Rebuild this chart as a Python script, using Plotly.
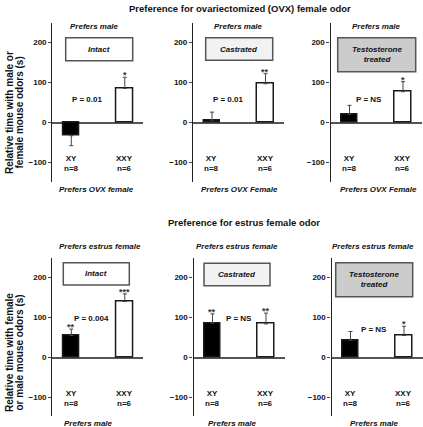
import plotly.graph_objects as go

W, H = 423, 427
FONT = "Liberation Sans, Arial, sans-serif"

categories = ["XY", "XXY"]
n_labels = ["n=8", "n=6"]
yticks = [-100, 0, 100, 200]

# OVX female odor row
ovx_intact = [-33, 85]
ovx_intact_err = [25, 28]
ovx_castrated = [6, 97]
ovx_castrated_err = [20, 25]
ovx_testo = [21, 77]
ovx_testo_err = [22, 25]
ovx_sig = [["", "*"], ["", "**"], ["", "*"]]
ovx_p = ["P = 0.01", "P = 0.01", "P = NS"]

# estrus female odor row
estrus_intact = [55, 140]
estrus_intact_err = [16, 19]
estrus_castrated = [86, 84]
estrus_castrated_err = [23, 27]
estrus_testo = [43, 55]
estrus_testo_err = [22, 23]
estrus_sig = [["**", "***"], ["**", "**"], ["", "*"]]
estrus_p = ["P = 0.004", "P = NS", "P = NS"]

group_labels = ["Intact", "Castrated", "Testosterone<br>treated"]
group_fills = ["#ffffff", "#f2f2f2", "#cccccc"]

bar_colors = ["#000000", "#ffffff"]

fig = go.Figure()

def px_x(p):
    return p / W

def px_y(p):
    return 1 - p / H

# panel geometry in pixels (axis x start, domain width)
top_x0 = [52.3, 193.0, 330.5]
bot_x0 = [52.3, 193.5, 331.5]
PW = 91
top_y = (22.5, 181.7)
bot_y = (257.5, 415.5)
top_range = [-148, 250]
bot_range = [-145, 250]

rows = [
    dict(vals=[ovx_intact, ovx_castrated, ovx_testo],
         errs=[ovx_intact_err, ovx_castrated_err, ovx_testo_err],
         sig=ovx_sig, p=ovx_p, x0=top_x0, y=top_y, rng=top_range),
    dict(vals=[estrus_intact, estrus_castrated, estrus_testo],
         errs=[estrus_intact_err, estrus_castrated_err, estrus_testo_err],
         sig=estrus_sig, p=estrus_p, x0=bot_x0, y=bot_y, rng=bot_range),
]

# p-value label positions (data coords in category units / value units)
p_pos = [[(0.29, 57), (0.29, 57), (0.37, 57)],
         [(0.37, 98), (0.49, 98), (0.44, 69)]]

# box positions in pixels (x0, x1, y0, y1)
boxes = [
    [(65.7, 132.7, 37.7, 60.7), (205.7, 272.7, 37.7, 60.3), (337.7, 415.7, 37.7, 71.7)],
    [(63.3, 129.3, 262.7, 285.0), (204.0, 270.0, 263.3, 285.7), (335.7, 412.7, 262.7, 296.7)],
]

annotations = []
shapes = []
k = 0
for r, row in enumerate(rows):
    for c in range(3):
        k += 1
        xa = "x" if k == 1 else f"x{k}"
        ya = "y" if k == 1 else f"y{k}"
        vals = row["vals"][c]
        errs = row["errs"][c]
        plus = [e if v >= 0 else 0 for v, e in zip(vals, errs)]
        minus = [e if v < 0 else 0 for v, e in zip(vals, errs)]
        fig.add_trace(go.Bar(
            x=categories, y=vals, width=0.30, xaxis=xa, yaxis=ya,
            marker=dict(color=bar_colors, line=dict(color="#1a1a1a", width=1.5)),
            error_y=dict(type="data", array=plus, arrayminus=minus, symmetric=False,
                         color="#444444", thickness=1, width=2),
            showlegend=False, hoverinfo="skip",
        ))
        x0 = row["x0"][c]
        dom_x = [px_x(x0), px_x(x0 + PW)]
        dom_y = [px_y(row["y"][1]), px_y(row["y"][0])]
        fig.layout[f"xaxis{'' if k == 1 else k}"] = dict(
            domain=dom_x, anchor=ya, type="category", range=[-0.355, 1.346],
            showline=False, showticklabels=False, ticks="", showgrid=False,
            zeroline=False, fixedrange=True)
        fig.layout[f"yaxis{'' if k == 1 else k}"] = dict(
            domain=dom_y, anchor=xa, range=row["rng"], tickvals=yticks,
            showline=True, linecolor="#222222", linewidth=1.3,
            ticks="outside", ticklen=3, tickwidth=1, tickcolor="#444444",
            showgrid=False, zeroline=True, zerolinecolor="#555555", zerolinewidth=1.5,
            tickfont=dict(family=FONT, size=8, color="#111111", weight="bold"),
            fixedrange=True)
        # XY / n labels
        for i, cat in enumerate(categories):
            annotations.append(dict(
                x=cat, y=-102, xref=xa, yref=ya, showarrow=False,
                xanchor="center", yanchor="middle",
                text=f"{cat}<br>{n_labels[i]}", align="center",
                font=dict(family=FONT, size=8, color="#111111", weight="bold")))
            s = row["sig"][c][i]
            if s:
                annotations.append(dict(
                    x=cat, y=vals[i] + errs[i], xref=xa, yref=ya, showarrow=False,
                    text=s, xanchor="center", yanchor="middle", yshift=2,
                    font=dict(family=FONT, size=9, color="#333333", weight="bold")))
        # p value
        pxv, pyv = p_pos[r][c]
        annotations.append(dict(
            x=pxv, y=pyv, xref=xa, yref=ya, showarrow=False, text=row["p"][c],
            xanchor="center", yanchor="middle",
            font=dict(family=FONT, size=8, color="#111111", weight="bold")))
        # group box
        bx0, bx1, by0, by1 = boxes[r][c]
        shapes.append(dict(type="rect", xref="paper", yref="paper",
                           x0=px_x(bx0), x1=px_x(bx1), y0=px_y(by1), y1=px_y(by0),
                           line=dict(color="#555555", width=1.5),
                           fillcolor=group_fills[c], layer="above"))
        annotations.append(dict(
            x=px_x((bx0 + bx1) / 2), y=px_y((by0 + by1) / 2), xref="paper", yref="paper",
            showarrow=False, text=f"<i>{group_labels[c]}</i>",
            xanchor="center", yanchor="middle",
            font=dict(family=FONT, size=8, color="#111111", weight="bold")))

def paper_text(text, xpx, ypx, size, italic=False, angle=0):
    t = f"<i>{text}</i>" if italic else text
    annotations.append(dict(
        x=px_x(xpx), y=px_y(ypx), xref="paper", yref="paper", showarrow=False,
        text=t, textangle=angle, xanchor="center", yanchor="middle",
        font=dict(family=FONT, size=size, color="#111111", weight="bold")))

# row titles
paper_text("Preference for ovariectomized (OVX) female odor", 240, 8, 9.5)
paper_text("Preference for estrus female odor", 244, 222.3, 9.5)

# preference side labels
for xc in [94, 238, 376]:
    paper_text("Prefers male", xc, 26.7, 8, italic=True)
for xc, t in zip([96, 239, 378], ["Prefers OVX female", "Prefers OVX Female", "Prefers OVX Female"]):
    paper_text(t, xc, 189, 8, italic=True)
for xc in [100, 237, 373]:
    paper_text("Prefers estrus female", xc, 246.7, 8, italic=True)
for xc in [88, 232, 374]:
    paper_text("Prefers male", xc, 423.5, 8, italic=True)

# y axis titles
paper_text("Relative time with male or", 9, 113, 10, angle=-90)
paper_text("female mouse odors (s)", 18.5, 113, 10, angle=-90)
paper_text("Relative time with female", 9, 353, 10, angle=-90)
paper_text("or male mouse odors (s)", 18.5, 353, 10, angle=-90)

fig.update_layout(
    width=W, height=H, margin=dict(l=0, r=0, t=0, b=0),
    paper_bgcolor="white", plot_bgcolor="white",
    annotations=annotations, shapes=shapes, bargap=0,
    font=dict(family=FONT),
)

fig.write_html("out.html", config={"displayModeBar": False},
               post_script="document.body.style.margin='0';document.body.style.overflow='hidden';")
